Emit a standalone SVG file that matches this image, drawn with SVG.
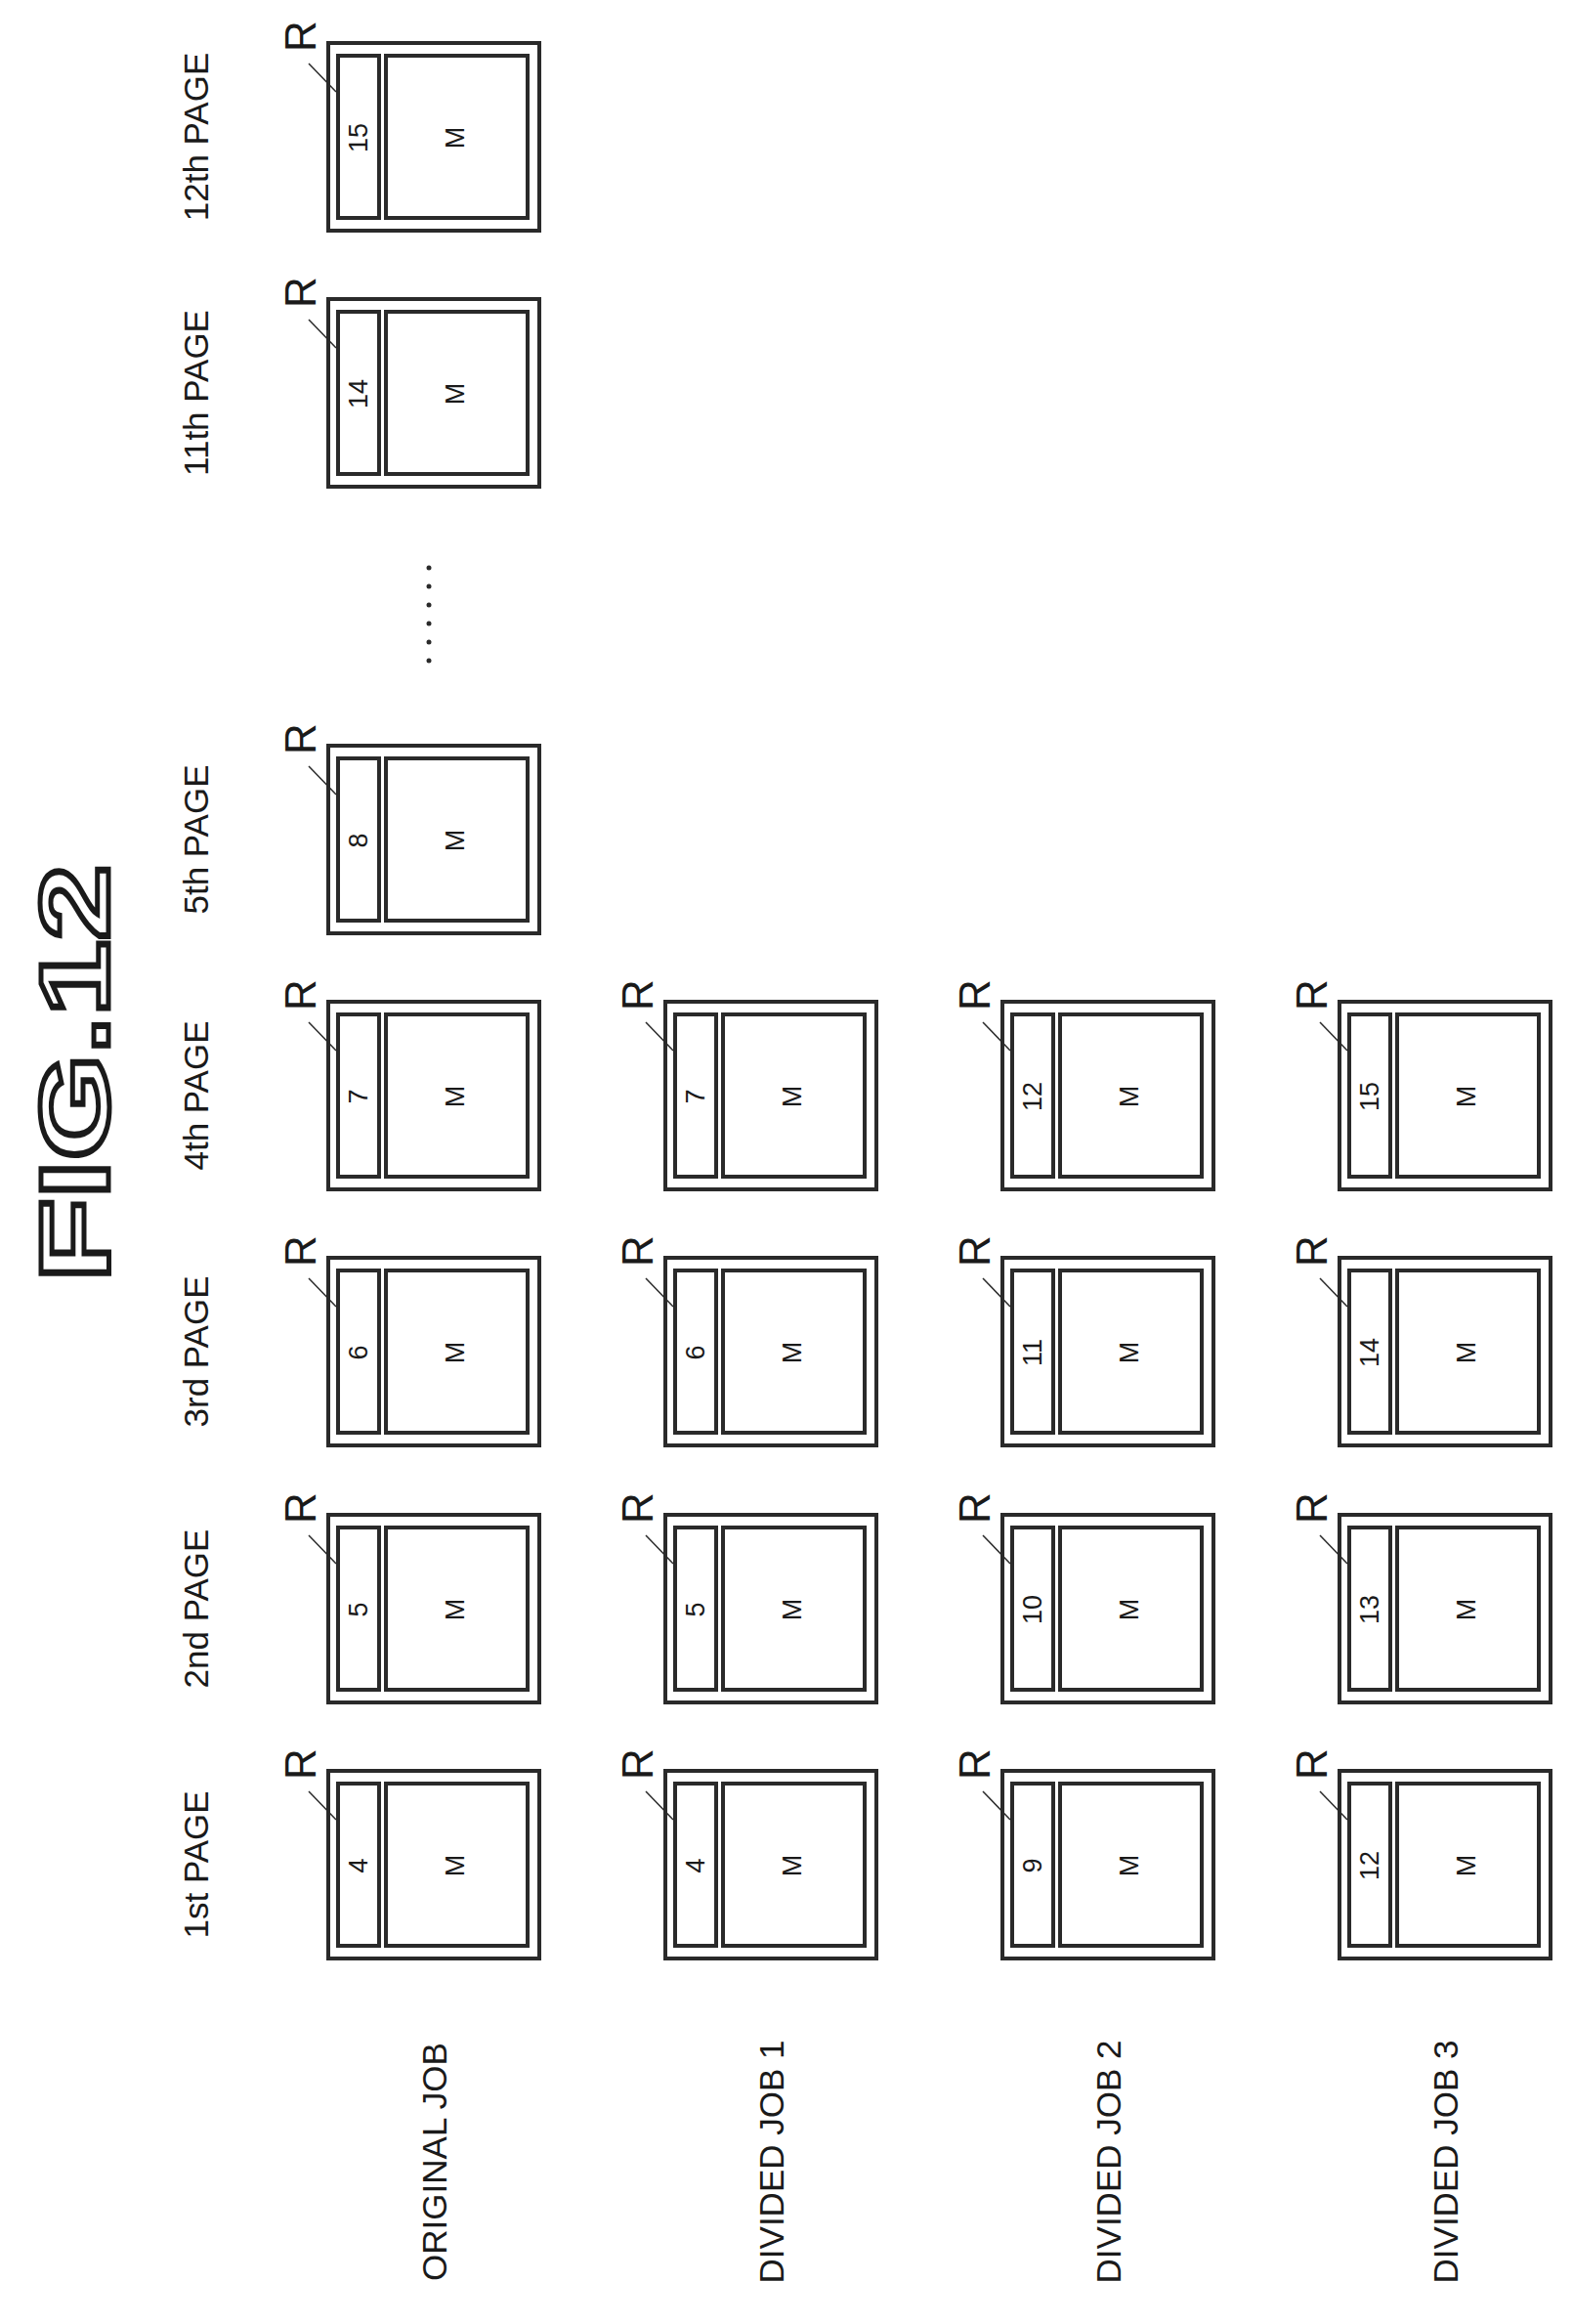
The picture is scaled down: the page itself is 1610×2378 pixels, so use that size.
<svg xmlns="http://www.w3.org/2000/svg" xmlns:xlink="http://www.w3.org/1999/xlink" width="1610" height="2378" viewBox="0 0 1610 2378">
<style>
.b{fill:none;stroke:#2a2a2a;stroke-width:4}
.l{stroke:#2a2a2a;stroke-width:1.5}
text{font-family:"Liberation Sans",Arial,sans-serif;fill:#1a1a1a;text-anchor:middle;dominant-baseline:central}
.n{font-size:27px}
.r{font-size:44px}
.p{font-size:35px}
.j{font-size:35px}
</style>
<defs>
<g id="page">
<rect class="b" x="0" y="0" width="216" height="192"/>
<rect class="b" x="10" y="13" width="42" height="166"/>
<rect class="b" x="59" y="13" width="145" height="166"/>
<line class="l" x1="-20" y1="21" x2="8" y2="50"/>
<text class="r" transform="translate(-29,-7) rotate(-90)">R</text>
<text class="n" transform="translate(130,97) rotate(-90)">M</text>
</g>
</defs>
<text transform="translate(76,1098) rotate(-90)" style="font-size:100px;font-weight:bold;fill:#fff;stroke:#1a1a1a;stroke-width:5" textLength="427" lengthAdjust="spacingAndGlyphs">FIG.12</text>
<g id="page-labels">
<text class="p" transform="translate(200,1908) rotate(-90)">1st PAGE</text>
<text class="p" transform="translate(200,1646) rotate(-90)">2nd PAGE</text>
<text class="p" transform="translate(200,1383) rotate(-90)">3rd PAGE</text>
<text class="p" transform="translate(200,1121) rotate(-90)">4th PAGE</text>
<text class="p" transform="translate(200,859) rotate(-90)">5th PAGE</text>
<text class="p" transform="translate(200,402) rotate(-90)">11th PAGE</text>
<text class="p" transform="translate(200,140) rotate(-90)">12th PAGE</text>
</g>
<g id="job-labels">
<text class="j" transform="translate(444,2212) rotate(-90)">ORIGINAL JOB</text>
<text class="j" transform="translate(789,2212) rotate(-90)">DIVIDED JOB 1</text>
<text class="j" transform="translate(1134,2212) rotate(-90)">DIVIDED JOB 2</text>
<text class="j" transform="translate(1479,2212) rotate(-90)">DIVIDED JOB 3</text>
</g>
<g id="ellipsis" fill="#2a2a2a">
<circle cx="439" cy="581" r="2.5"/><circle cx="439" cy="600" r="2.5"/><circle cx="439" cy="619" r="2.5"/><circle cx="439" cy="638" r="2.5"/><circle cx="439" cy="657" r="2.5"/><circle cx="439" cy="676" r="2.5"/>
</g>
<g id="orig-p1" transform="translate(336,1812)"><use xlink:href="#page"/><text class="n" transform="translate(31,97) rotate(-90)">4</text></g>
<g id="orig-p2" transform="translate(336,1550)"><use xlink:href="#page"/><text class="n" transform="translate(31,97) rotate(-90)">5</text></g>
<g id="orig-p3" transform="translate(336,1287)"><use xlink:href="#page"/><text class="n" transform="translate(31,97) rotate(-90)">6</text></g>
<g id="orig-p4" transform="translate(336,1025)"><use xlink:href="#page"/><text class="n" transform="translate(31,97) rotate(-90)">7</text></g>
<g id="orig-p5" transform="translate(336,763)"><use xlink:href="#page"/><text class="n" transform="translate(31,97) rotate(-90)">8</text></g>
<g id="orig-p11" transform="translate(336,306)"><use xlink:href="#page"/><text class="n" transform="translate(31,97) rotate(-90)">14</text></g>
<g id="orig-p12" transform="translate(336,44)"><use xlink:href="#page"/><text class="n" transform="translate(31,97) rotate(-90)">15</text></g>
<g id="d1-p1" transform="translate(681,1812)"><use xlink:href="#page"/><text class="n" transform="translate(31,97) rotate(-90)">4</text></g>
<g id="d1-p2" transform="translate(681,1550)"><use xlink:href="#page"/><text class="n" transform="translate(31,97) rotate(-90)">5</text></g>
<g id="d1-p3" transform="translate(681,1287)"><use xlink:href="#page"/><text class="n" transform="translate(31,97) rotate(-90)">6</text></g>
<g id="d1-p4" transform="translate(681,1025)"><use xlink:href="#page"/><text class="n" transform="translate(31,97) rotate(-90)">7</text></g>
<g id="d2-p1" transform="translate(1026,1812)"><use xlink:href="#page"/><text class="n" transform="translate(31,97) rotate(-90)">9</text></g>
<g id="d2-p2" transform="translate(1026,1550)"><use xlink:href="#page"/><text class="n" transform="translate(31,97) rotate(-90)">10</text></g>
<g id="d2-p3" transform="translate(1026,1287)"><use xlink:href="#page"/><text class="n" transform="translate(31,97) rotate(-90)">11</text></g>
<g id="d2-p4" transform="translate(1026,1025)"><use xlink:href="#page"/><text class="n" transform="translate(31,97) rotate(-90)">12</text></g>
<g id="d3-p1" transform="translate(1371,1812)"><use xlink:href="#page"/><text class="n" transform="translate(31,97) rotate(-90)">12</text></g>
<g id="d3-p2" transform="translate(1371,1550)"><use xlink:href="#page"/><text class="n" transform="translate(31,97) rotate(-90)">13</text></g>
<g id="d3-p3" transform="translate(1371,1287)"><use xlink:href="#page"/><text class="n" transform="translate(31,97) rotate(-90)">14</text></g>
<g id="d3-p4" transform="translate(1371,1025)"><use xlink:href="#page"/><text class="n" transform="translate(31,97) rotate(-90)">15</text></g>
</svg>
